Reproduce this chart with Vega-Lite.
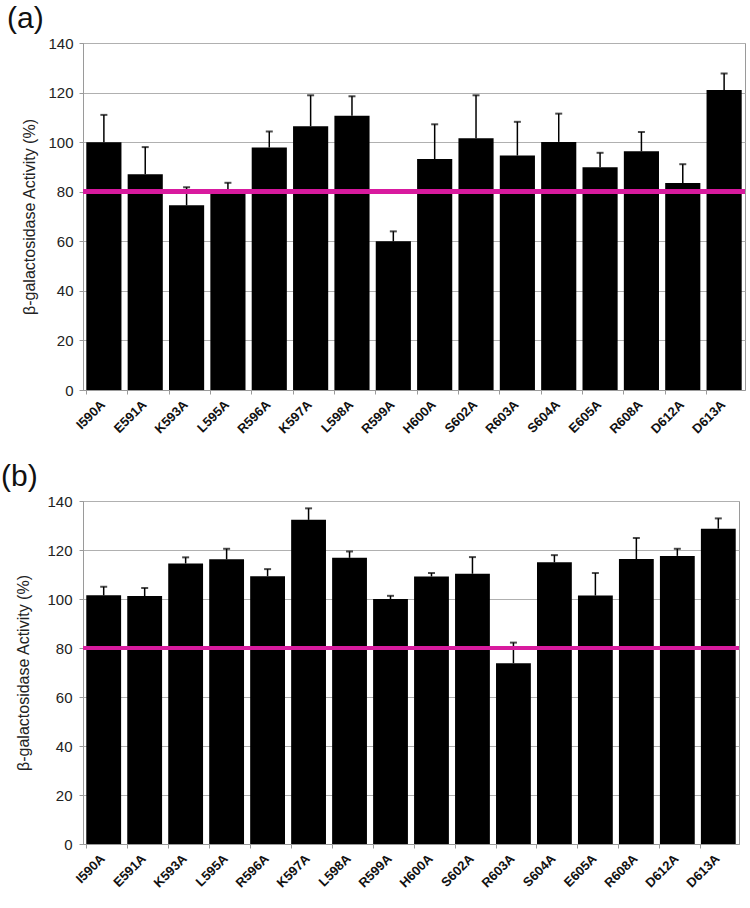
{
  "$schema": "https://vega.github.io/schema/vega-lite/v6.json",
  "background": "white",
  "padding": {"left": 0, "top": 3, "right": 5, "bottom": 5},
  "columns": 1,
  "align": "none",
  "spacing": 24,
  "config": {
    "font": "Liberation Sans",
    "view": {"stroke": "#9a9a9a", "strokeWidth": 1},
    "axis": {"domainColor": "#9a9a9a", "tickColor": "#9a9a9a", "tickSize": 4, "gridColor": "#b0b0b0"},
    "title": {"fontWeight": "normal", "fontSize": 30, "color": "#111", "anchor": "start", "frame": "bounds"}
  },
  "datasets": {
    "a": [
      {"m": "I590A", "v": 100, "e": 111},
      {"m": "E591A", "v": 87, "e": 98},
      {"m": "K593A", "v": 74.5, "e": 81.8},
      {"m": "L595A", "v": 79.5, "e": 83.6},
      {"m": "R596A", "v": 97.8, "e": 104.3},
      {"m": "K597A", "v": 106.4, "e": 118.9},
      {"m": "L598A", "v": 110.6, "e": 118.5},
      {"m": "R599A", "v": 60, "e": 64},
      {"m": "H600A", "v": 93.2, "e": 107.2},
      {"m": "S602A", "v": 101.6, "e": 118.9},
      {"m": "R603A", "v": 94.6, "e": 108.2},
      {"m": "S604A", "v": 100.1, "e": 111.5},
      {"m": "E605A", "v": 89.9, "e": 95.7},
      {"m": "R608A", "v": 96.3, "e": 104.1},
      {"m": "D612A", "v": 83.5, "e": 91.1},
      {"m": "D613A", "v": 121, "e": 127.7}
    ],
    "b": [
      {"m": "I590A", "v": 101.5, "e": 105},
      {"m": "E591A", "v": 101.2, "e": 104.5},
      {"m": "K593A", "v": 114.5, "e": 117},
      {"m": "L595A", "v": 116.2, "e": 120.5},
      {"m": "R596A", "v": 109.3, "e": 112.2},
      {"m": "K597A", "v": 132.3, "e": 137},
      {"m": "L598A", "v": 116.8, "e": 119.4},
      {"m": "R599A", "v": 100, "e": 101.3},
      {"m": "H600A", "v": 109.2, "e": 110.6},
      {"m": "S602A", "v": 110.3, "e": 117.1},
      {"m": "R603A", "v": 73.8, "e": 82.2},
      {"m": "S604A", "v": 115, "e": 117.9},
      {"m": "E605A", "v": 101.4, "e": 110.6},
      {"m": "R608A", "v": 116.3, "e": 124.9},
      {"m": "D612A", "v": 117.6, "e": 120.5},
      {"m": "D613A", "v": 128.7, "e": 132.9}
    ]
  },
  "concat": [
    {
      "title": {"text": "(a)", "dx": -15, "offset": 2},
      "width": 662,
      "height": 347,
      "data": {"name": "a"},
      "layer": [
        {
          "mark": {"type": "bar", "color": "black"},
          "encoding": {
            "x": {"field": "m", "type": "nominal", "sort": null, "scale": {"paddingInner": 0.15, "paddingOuter": 0.08},
              "axis": {"title": null, "labelAngle": -45, "labelAlign": "right", "labelBaseline": "top", "labelFontWeight": "bold", "labelFontSize": 13, "labelColor": "#111", "bandPosition": 0, "labelOffset": -5, "labelPadding": 4}},
            "y": {"field": "v", "type": "quantitative", "title": "β-galactosidase Activity (%)", "scale": {"domain": [0, 140]},
            "axis": {"values": [0, 20, 40, 60, 80, 100, 120, 140], "grid": true, "labelFontSize": 15, "labelColor": "#222", "titleFontSize": 16, "titleFontWeight": "normal", "titleColor": "#222", "titlePadding": 10, "labelPadding": 6}}}
        },
        {
          "mark": {"type": "rule", "color": "black", "strokeWidth": 1.5},
          "encoding": {
            "x": {"field": "m", "type": "nominal", "sort": null},
            "y": {"field": "v", "type": "quantitative", "title": "β-galactosidase Activity (%)"}, "y2": {"field": "e"}}
        },
        {
          "mark": {"type": "tick", "color": "black", "thickness": 2, "size": 7},
          "encoding": {
            "x": {"field": "m", "type": "nominal", "sort": null},
            "y": {"field": "e", "type": "quantitative", "title": "β-galactosidase Activity (%)"}}
        },
        {
          "mark": {"type": "rule", "color": "#d81b9e", "strokeWidth": 4},
          "encoding": {"y": {"datum": 80, "type": "quantitative", "title": "β-galactosidase Activity (%)"}}
        }
      ]
    },
    {
      "title": {"text": "(b)", "dx": -15, "offset": 2},
      "width": 656,
      "height": 343,
      "data": {"name": "b"},
      "layer": [
        {
          "mark": {"type": "bar", "color": "black"},
          "encoding": {
            "x": {"field": "m", "type": "nominal", "sort": null, "scale": {"paddingInner": 0.15, "paddingOuter": 0.08},
              "axis": {"title": null, "labelAngle": -45, "labelAlign": "right", "labelBaseline": "top", "labelFontWeight": "bold", "labelFontSize": 13, "labelColor": "#111", "bandPosition": 0, "labelOffset": -5, "labelPadding": 4}},
            "y": {"field": "v", "type": "quantitative", "title": "β-galactosidase Activity (%)", "scale": {"domain": [0, 140]},
            "axis": {"values": [0, 20, 40, 60, 80, 100, 120, 140], "grid": true, "labelFontSize": 15, "labelColor": "#222", "titleFontSize": 16, "titleFontWeight": "normal", "titleColor": "#222", "titlePadding": 15, "labelPadding": 7}}}
        },
        {
          "mark": {"type": "rule", "color": "black", "strokeWidth": 1.5},
          "encoding": {
            "x": {"field": "m", "type": "nominal", "sort": null},
            "y": {"field": "v", "type": "quantitative", "title": "β-galactosidase Activity (%)"}, "y2": {"field": "e"}}
        },
        {
          "mark": {"type": "tick", "color": "black", "thickness": 2, "size": 7},
          "encoding": {
            "x": {"field": "m", "type": "nominal", "sort": null},
            "y": {"field": "e", "type": "quantitative", "title": "β-galactosidase Activity (%)"}}
        },
        {
          "mark": {"type": "rule", "color": "#d81b9e", "strokeWidth": 4},
          "encoding": {"y": {"datum": 80, "type": "quantitative", "title": "β-galactosidase Activity (%)"}}
        }
      ]
    }
  ]
}
